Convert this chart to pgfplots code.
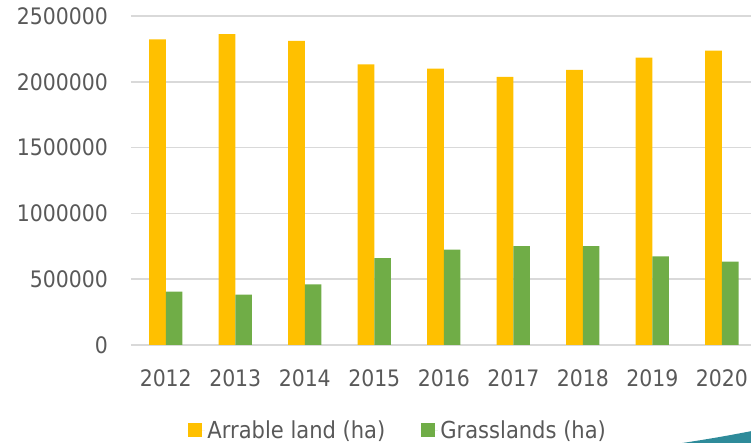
\documentclass[border=0pt]{standalone}
\usepackage{pgfplots}
\pgfplotsset{compat=1.18}
\usepackage{fontspec}
\setmainfont{DejaVu Sans Condensed}
\definecolor{arable}{HTML}{FFC000}
\definecolor{grass}{HTML}{70AD47}
\definecolor{gridc}{HTML}{D9D9D9}
\definecolor{txt}{HTML}{595959}
\definecolor{swoosh}{HTML}{2E8B9A}
\begin{document}
\begin{tikzpicture}[x=1pt,y=1pt]
\begin{axis}[
  at={(0,0)}, anchor=south west,
  scale only axis, width=620pt, height=329pt,
  xmin=-0.5, xmax=8.42, ymin=0, ymax=2500000,
  ybar=0pt, bar width=0.24,
  xtick={0,1,2,3,4,5,6,7,8},
  xticklabels={2012,2013,2014,2015,2016,2017,2018,2019,2020},
  ytick={0,500000,1000000,1500000,2000000,2500000},
  ymajorgrids, grid style={gridc, line width=1.6pt},
  axis line style={draw=none}, tick style={draw=none},
  major tick length=0pt,
  scaled y ticks=false,
  /pgf/number format/assume math mode=true,
  /pgf/number format/fixed,
  /pgf/number format/1000 sep={},
  tick label style={font=\fontsize{22.7}{27}\selectfont, text=txt, inner sep=0pt},
  xticklabel style={anchor=north, yshift=-24pt},
  yticklabel style={anchor=east, xshift=-23pt},
  legend style={at={(0.0916,-0.2584)}, anchor=west, draw=none, fill=none,
    inner sep=0pt, legend columns=2, font=\fontsize{23.4}{27}\selectfont, text=txt,
    nodes={inner sep=2.5pt},
    /tikz/every even column/.append style={column sep=33pt}},
  legend image code/.code={\fill[#1] (0pt,-7pt) rectangle (14pt,7pt); \path (0pt,0pt) -- (17pt,0pt);},
]
\addplot[fill=arable, draw=none, bar shift=-0.12] coordinates {
 (0,2323000) (1,2363000) (2,2310000) (3,2133000) (4,2100000)
 (5,2037000) (6,2090000) (7,2183000) (8,2236000)};
\addlegendentry{Arrable land (ha)}
\addplot[fill=grass, draw=none, bar shift=0.12] coordinates {
 (0,405000) (1,382000) (2,461000) (3,661000) (4,724000)
 (5,752000) (6,752000) (7,674000) (8,633000)};
\addlegendentry{Grasslands (ha)}
\end{axis}
\fill[swoosh] (548,-98.5) .. controls (585,-93) and (605,-89) .. (621,-86) -- (621,-99) -- cycle;
\pgfresetboundingbox
\useasboundingbox (-131,-98) rectangle (620,345);
\end{tikzpicture}
\end{document}
